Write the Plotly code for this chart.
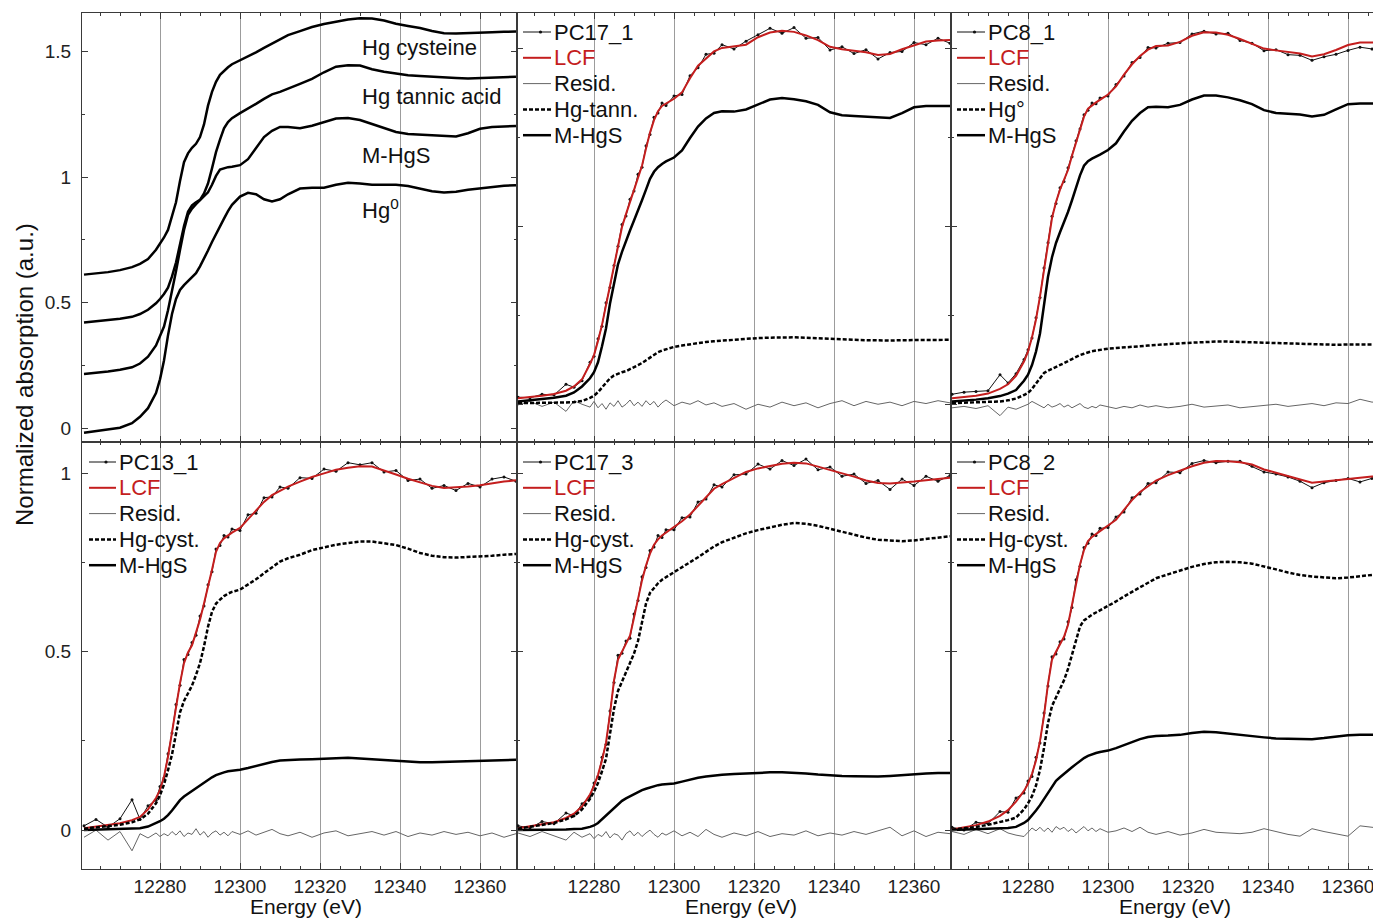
import plotly.graph_objects as go

# ---------------- data ----------------
energy = [12261, 12264, 12267, 12270, 12273, 12275, 12277, 12279, 12280, 12281,
          12282, 12283, 12284, 12285, 12286, 12287, 12288, 12289, 12290, 12291,
          12292, 12293, 12294, 12295, 12296, 12297, 12298, 12300, 12302, 12304,
          12306, 12308, 12310, 12312, 12315, 12318, 12321, 12324, 12327, 12330,
          12333, 12336, 12339, 12342, 12345, 12348, 12351, 12354, 12357, 12360,
          12363, 12366, 12369]

# reference spectra (stacked, top-left panel)
ref_hg_cysteine = [0.612, 0.616, 0.622, 0.630, 0.642, 0.655, 0.674, 0.711, 0.735, 0.760,
                   0.790, 0.845, 0.900, 0.985, 1.060, 1.095, 1.117, 1.133, 1.160, 1.210,
                   1.285, 1.340, 1.380, 1.408, 1.425, 1.438, 1.450, 1.465, 1.482, 1.497,
                   1.515, 1.532, 1.550, 1.566, 1.582, 1.598, 1.610, 1.620, 1.628, 1.633,
                   1.632, 1.624, 1.611, 1.602, 1.594, 1.582, 1.573, 1.572, 1.573, 1.574,
                   1.577, 1.579, 1.580]
ref_hg_tannic = [0.421, 0.425, 0.430, 0.436, 0.444, 0.455, 0.472, 0.498, 0.515, 0.535,
                 0.560, 0.605, 0.660, 0.735, 0.805, 0.862, 0.888, 0.900, 0.910, 0.935,
                 0.975, 1.035, 1.100, 1.150, 1.195, 1.220, 1.235, 1.255, 1.272, 1.292,
                 1.312, 1.330, 1.340, 1.352, 1.372, 1.392, 1.418, 1.440, 1.446, 1.445,
                 1.430, 1.420, 1.412, 1.406, 1.403, 1.400, 1.396, 1.395, 1.393, 1.395,
                 1.396, 1.398, 1.400]
ref_mhgs = [0.216, 0.220, 0.226, 0.233, 0.243, 0.258, 0.285, 0.330, 0.365, 0.405,
            0.470, 0.545, 0.625, 0.710, 0.790, 0.850, 0.875, 0.893, 0.908, 0.922,
            0.940, 0.970, 1.005, 1.030, 1.036, 1.040, 1.042, 1.048, 1.072, 1.115,
            1.160, 1.185, 1.200, 1.200, 1.195, 1.205, 1.220, 1.234, 1.236, 1.228,
            1.212, 1.195, 1.180, 1.172, 1.169, 1.167, 1.163, 1.162, 1.175, 1.193,
            1.200, 1.202, 1.204]
ref_hg0 = [-0.018, -0.012, -0.006, 0.002, 0.020, 0.046, 0.080, 0.140, 0.195, 0.270,
           0.370, 0.455, 0.515, 0.551, 0.570, 0.585, 0.600, 0.618, 0.645, 0.675,
           0.708, 0.742, 0.775, 0.805, 0.835, 0.865, 0.890, 0.923, 0.938, 0.932,
           0.912, 0.903, 0.912, 0.932, 0.955, 0.958, 0.958, 0.970, 0.978, 0.975,
           0.970, 0.970, 0.970, 0.965, 0.955, 0.944, 0.939, 0.942, 0.950, 0.956,
           0.962, 0.966, 0.968]
ref_labels = ["Hg cysteine", "Hg tannic acid", "M-HgS", "Hg<sup>0</sup>"]
ref_label_y = [1.518, 1.323, 1.088, 0.875]

# PC17_1
pc17_1_data = [0.022, 0.020, 0.030, 0.028, 0.058, 0.050, 0.068, 0.120, 0.137, 0.186,
               0.221, 0.287, 0.330, 0.392, 0.446, 0.507, 0.531, 0.578, 0.601, 0.648,
               0.668, 0.728, 0.760, 0.808, 0.820, 0.848, 0.841, 0.868, 0.872, 0.925,
               0.947, 0.985, 0.988, 1.012, 1.000, 1.022, 1.040, 1.058, 1.044, 1.060,
               1.030, 1.032, 0.997, 1.006, 0.987, 0.998, 0.972, 0.990, 0.993, 1.018,
               1.012, 1.030, 1.016]
pc17_1_lcf = [0.019, 0.022, 0.026, 0.031, 0.040, 0.052, 0.072, 0.115, 0.140, 0.180,
              0.225, 0.280, 0.335, 0.385, 0.450, 0.500, 0.536, 0.570, 0.605, 0.640,
              0.672, 0.720, 0.765, 0.800, 0.825, 0.840, 0.846, 0.860, 0.878, 0.918,
              0.953, 0.974, 0.993, 1.003, 1.007, 1.012, 1.033, 1.046, 1.051, 1.048,
              1.038, 1.025, 1.006, 0.999, 0.995, 0.991, 0.983, 0.986, 0.999, 1.011,
              1.021, 1.024, 1.025]
pc17_1_resid = [0.000, 0.010, -0.004, 0.008, -0.018, 0.012, 0.002, -0.006, 0.010, -0.008,
                0.004, -0.012, 0.006, -0.004, 0.012, -0.006, 0.002, 0.014, -0.002, 0.008,
                -0.004, 0.012, 0.000, 0.010, -0.006, 0.006, 0.014, -0.002, 0.008, 0.002,
                0.012, 0.000, 0.006, -0.004, 0.004, -0.012, 0.002, -0.006, 0.008, -0.002,
                0.006, -0.008, 0.004, 0.012, -0.002, 0.010, 0.002, 0.008, -0.002, 0.010,
                0.004, 0.012, 0.006]
pc17_1_hgtann = [0.005, 0.005, 0.006, 0.006, 0.007, 0.008, 0.011, 0.020, 0.026, 0.036,
                 0.048, 0.062, 0.075, 0.083, 0.088, 0.092, 0.095, 0.100, 0.106, 0.112,
                 0.118, 0.126, 0.134, 0.142, 0.148, 0.153, 0.157, 0.163, 0.167, 0.171,
                 0.174, 0.177, 0.179, 0.181, 0.184, 0.186, 0.188, 0.189, 0.190, 0.190,
                 0.189, 0.187, 0.186, 0.184, 0.183, 0.182, 0.181, 0.181, 0.182, 0.182,
                 0.183, 0.183, 0.183]
pc17_1_mhgs = [0.010, 0.013, 0.016, 0.020, 0.026, 0.035, 0.052, 0.075, 0.092, 0.120,
               0.165, 0.215, 0.285, 0.345, 0.395, 0.430, 0.462, 0.490, 0.518, 0.545,
               0.575, 0.605, 0.635, 0.655, 0.668, 0.677, 0.684, 0.695, 0.715, 0.750,
               0.782, 0.805, 0.820, 0.825, 0.824, 0.830, 0.845, 0.858, 0.862, 0.859,
               0.853, 0.843, 0.822, 0.814, 0.812, 0.810, 0.806, 0.806, 0.820, 0.836,
               0.840, 0.840, 0.840]

# PC8_1
pc8_1_data = [0.030, 0.036, 0.038, 0.040, 0.085, 0.062, 0.088, 0.128, 0.155, 0.188,
              0.245, 0.302, 0.385, 0.456, 0.530, 0.566, 0.610, 0.628, 0.666, 0.697,
              0.742, 0.775, 0.815, 0.828, 0.848, 0.846, 0.862, 0.868, 0.900, 0.924,
              0.962, 0.976, 1.004, 1.003, 1.016, 1.018, 1.042, 1.050, 1.042, 1.044,
              1.024, 1.016, 0.995, 0.998, 0.984, 0.982, 0.968, 0.978, 0.985, 0.996,
              1.005, 1.000, 0.996]
pc8_1_lcf = [0.019, 0.022, 0.026, 0.032, 0.045, 0.058, 0.082, 0.122, 0.150, 0.190,
             0.240, 0.305, 0.380, 0.460, 0.525, 0.570, 0.605, 0.632, 0.660, 0.700,
             0.738, 0.778, 0.810, 0.832, 0.842, 0.850, 0.857, 0.872, 0.895, 0.928,
             0.957, 0.980, 0.998, 1.008, 1.010, 1.020, 1.037, 1.047, 1.046, 1.040,
             1.028, 1.014, 1.001, 0.996, 0.992, 0.987, 0.979, 0.985, 0.997, 1.011,
             1.018, 1.018, 1.018]
pc8_1_resid = [-0.008, -0.004, -0.010, -0.002, -0.030, -0.006, -0.012, -0.004, 0.002, 0.010,
               0.004, -0.004, -0.008, 0.002, -0.006, -0.002, 0.004, -0.006, 0.000, -0.008,
               -0.002, 0.004, -0.006, -0.010, -0.004, -0.008, 0.000, -0.006, -0.010, -0.004,
               -0.008, 0.000, -0.006, -0.002, -0.008, -0.004, 0.002, -0.006, -0.002, 0.000,
               -0.008, -0.004, -0.002, 0.002, -0.004, 0.000, 0.004, -0.002, 0.006, 0.004,
               0.016, 0.008, 0.010]
pc8_1_hg0 = [0.005, 0.006, 0.007, 0.008, 0.010, 0.013, 0.018, 0.028, 0.034, 0.045,
             0.060, 0.078, 0.090, 0.096, 0.101, 0.106, 0.111, 0.117, 0.123, 0.129,
             0.135, 0.140, 0.144, 0.148, 0.151, 0.153, 0.155, 0.158, 0.160, 0.161,
             0.163, 0.165, 0.167, 0.169, 0.171, 0.173, 0.175, 0.177, 0.178, 0.178,
             0.177, 0.176, 0.174, 0.173, 0.172, 0.171, 0.169, 0.169, 0.169, 0.170,
             0.170, 0.170, 0.170]
pc8_1_mhgs = [0.010, 0.012, 0.015, 0.019, 0.025, 0.032, 0.042, 0.068, 0.085, 0.112,
              0.150, 0.201, 0.285, 0.360, 0.415, 0.455, 0.485, 0.512, 0.542, 0.575,
              0.610, 0.645, 0.672, 0.685, 0.692, 0.697, 0.703, 0.716, 0.735, 0.768,
              0.798, 0.820, 0.836, 0.838, 0.836, 0.843, 0.858, 0.869, 0.869, 0.864,
              0.856, 0.845, 0.828, 0.820, 0.819, 0.816, 0.810, 0.815, 0.830, 0.845,
              0.847, 0.847, 0.847]

# PC13_1
pc13_1_data = [0.012, 0.030, 0.008, 0.032, 0.085, 0.030, 0.068, 0.084, 0.122, 0.146,
               0.214, 0.272, 0.352, 0.406, 0.478, 0.492, 0.526, 0.546, 0.600, 0.628,
               0.688, 0.724, 0.788, 0.798, 0.826, 0.822, 0.844, 0.840, 0.884, 0.888,
               0.932, 0.934, 0.962, 0.958, 0.988, 0.986, 1.012, 1.006, 1.030, 1.024,
               1.030, 1.004, 1.008, 0.980, 0.984, 0.958, 0.966, 0.952, 0.972, 0.962,
               0.984, 0.990, 0.978]
pc13_1_lcf = [0.005, 0.010, 0.014, 0.019, 0.028, 0.037, 0.058, 0.090, 0.112, 0.150,
              0.205, 0.278, 0.345, 0.412, 0.468, 0.498, 0.518, 0.552, 0.590, 0.635,
              0.680, 0.730, 0.780, 0.805, 0.818, 0.827, 0.834, 0.847, 0.872, 0.896,
              0.920, 0.939, 0.952, 0.963, 0.977, 0.990, 1.000, 1.010, 1.016, 1.020,
              1.019, 1.009, 0.997, 0.985, 0.974, 0.965, 0.959, 0.960, 0.963, 0.967,
              0.973, 0.977, 0.981]
pc13_1_resid = [-0.020, 0.000, -0.028, -0.004, -0.058, -0.010, -0.022, -0.008, -0.018, -0.010,
                -0.016, -0.004, -0.014, -0.002, -0.018, -0.008, -0.012, 0.004, -0.014, -0.004,
                -0.020, -0.008, -0.002, -0.014, -0.006, -0.016, -0.004, -0.012, -0.002, -0.014,
                -0.006, 0.002, -0.010, -0.016, -0.006, -0.020, -0.008, -0.002, -0.016, -0.010,
                -0.004, -0.014, -0.004, -0.018, -0.008, -0.014, -0.004, -0.012, -0.006, -0.016,
                -0.008, -0.020, -0.010]
pc13_1_hgcyst = [0.004, 0.008, 0.011, 0.015, 0.022, 0.030, 0.046, 0.075, 0.098, 0.128,
                 0.168, 0.212, 0.270, 0.330, 0.362, 0.382, 0.405, 0.435, 0.468, 0.515,
                 0.570, 0.612, 0.635, 0.646, 0.656, 0.663, 0.668, 0.674, 0.688, 0.703,
                 0.720, 0.737, 0.753, 0.762, 0.772, 0.785, 0.793, 0.800, 0.805, 0.809,
                 0.809, 0.805, 0.799, 0.789, 0.777, 0.769, 0.765, 0.764, 0.765, 0.766,
                 0.769, 0.772, 0.774]
pc13_1_mhgs = [0.000, 0.001, 0.002, 0.003, 0.004, 0.005, 0.010, 0.019, 0.025, 0.032,
               0.042, 0.055, 0.070, 0.084, 0.094, 0.102, 0.110, 0.117, 0.125, 0.133,
               0.141, 0.148, 0.154, 0.159, 0.162, 0.165, 0.166, 0.169, 0.174, 0.180,
               0.186, 0.191, 0.195, 0.197, 0.198, 0.199, 0.200, 0.202, 0.203, 0.201,
               0.199, 0.196, 0.193, 0.191, 0.190, 0.190, 0.191, 0.192, 0.193, 0.194,
               0.195, 0.196, 0.197]

# PC17_3
pc17_3_data = [0.012, 0.006, 0.024, 0.018, 0.048, 0.040, 0.074, 0.094, 0.132, 0.150,
               0.204, 0.240, 0.334, 0.414, 0.490, 0.496, 0.530, 0.538, 0.606, 0.644,
               0.710, 0.736, 0.784, 0.794, 0.826, 0.820, 0.842, 0.842, 0.876, 0.878,
               0.920, 0.928, 0.968, 0.962, 0.996, 0.998, 1.026, 1.012, 1.036, 1.022,
               1.040, 1.010, 1.018, 0.992, 0.998, 0.972, 0.980, 0.955, 0.984, 0.966,
               0.992, 0.978, 0.994]
pc17_3_lcf = [0.005, 0.010, 0.016, 0.022, 0.034, 0.046, 0.066, 0.100, 0.124, 0.155,
              0.195, 0.245, 0.325, 0.420, 0.478, 0.500, 0.520, 0.545, 0.595, 0.650,
              0.700, 0.742, 0.775, 0.800, 0.815, 0.826, 0.834, 0.848, 0.866, 0.885,
              0.910, 0.935, 0.957, 0.970, 0.987, 1.004, 1.014, 1.021, 1.027, 1.030,
              1.028, 1.019, 1.010, 1.001, 0.991, 0.980, 0.973, 0.972, 0.974, 0.977,
              0.981, 0.985, 0.988]
pc17_3_resid = [-0.008, -0.018, -0.004, -0.016, -0.028, -0.006, -0.020, -0.010, -0.024, -0.012,
                -0.018, -0.004, -0.022, -0.010, -0.014, -0.028, -0.010, -0.002, -0.016, -0.006,
                -0.018, -0.008, 0.000, -0.012, -0.020, -0.008, -0.014, -0.002, -0.016, -0.006,
                -0.018, 0.002, -0.012, -0.020, -0.008, -0.016, -0.004, -0.018, -0.010, -0.014,
                -0.002, -0.016, -0.008, -0.014, -0.004, -0.012, -0.002, 0.008, -0.016, -0.002,
                -0.018, -0.006, -0.010]
pc17_3_hgcyst = [0.004, 0.009, 0.014, 0.020, 0.030, 0.040, 0.058, 0.088, 0.108, 0.132,
                 0.165, 0.200, 0.270, 0.340, 0.390, 0.415, 0.440, 0.465, 0.495, 0.530,
                 0.585, 0.635, 0.665, 0.680, 0.692, 0.702, 0.709, 0.721, 0.735, 0.750,
                 0.765, 0.780, 0.795, 0.807, 0.820, 0.832, 0.841, 0.849, 0.856, 0.861,
                 0.859, 0.853, 0.845, 0.836, 0.827, 0.820, 0.814, 0.811, 0.810, 0.812,
                 0.816, 0.820, 0.824]
pc17_3_mhgs = [0.000, 0.000, 0.001, 0.001, 0.002, 0.003, 0.004, 0.009, 0.013, 0.020,
               0.030, 0.040, 0.052, 0.062, 0.072, 0.082, 0.089, 0.095, 0.101, 0.107,
               0.112, 0.116, 0.120, 0.123, 0.126, 0.128, 0.129, 0.131, 0.136, 0.142,
               0.147, 0.150, 0.153, 0.155, 0.157, 0.159, 0.161, 0.162, 0.162, 0.161,
               0.159, 0.156, 0.153, 0.152, 0.151, 0.150, 0.150, 0.152, 0.155, 0.157,
               0.159, 0.160, 0.160]

# PC8_2
pc8_2_data = [0.008, 0.000, 0.022, 0.018, 0.052, 0.050, 0.090, 0.104, 0.138, 0.150,
              0.204, 0.244, 0.328, 0.404, 0.486, 0.494, 0.528, 0.536, 0.584, 0.624,
              0.702, 0.740, 0.792, 0.804, 0.830, 0.826, 0.846, 0.848, 0.878, 0.892,
              0.932, 0.942, 0.972, 0.974, 1.004, 1.002, 1.028, 1.036, 1.030, 1.034,
              1.034, 1.020, 1.004, 0.998, 0.990, 0.978, 0.960, 0.974, 0.980, 0.986,
              0.976, 0.986, 0.990]
pc8_2_lcf = [0.002, 0.007, 0.014, 0.024, 0.040, 0.056, 0.080, 0.110, 0.130, 0.158,
             0.195, 0.250, 0.320, 0.410, 0.478, 0.500, 0.520, 0.542, 0.575, 0.630,
             0.695, 0.745, 0.785, 0.810, 0.822, 0.831, 0.838, 0.854, 0.870, 0.898,
             0.925, 0.948, 0.963, 0.980, 0.995, 1.008, 1.020, 1.030, 1.035, 1.034,
             1.031, 1.025, 1.011, 1.002, 0.993, 0.982, 0.974, 0.977, 0.981, 0.985,
             0.988, 0.991, 0.994]
pc8_2_resid = [-0.004, -0.012, 0.002, -0.010, 0.004, -0.008, -0.014, -0.018, -0.006, 0.006,
               -0.002, 0.008, -0.004, 0.006, -0.006, 0.010, 0.002, 0.008, -0.004, 0.004,
               -0.008, 0.002, 0.010, -0.002, 0.006, -0.004, 0.004, -0.006, -0.002, 0.006,
               -0.004, 0.008, -0.006, -0.012, -0.004, -0.014, -0.008, 0.002, -0.006, -0.008,
               -0.010, -0.006, 0.004, -0.004, -0.012, -0.017, 0.004, -0.004, -0.010, -0.017,
               0.012, 0.008, 0.004]
pc8_2_hgcyst = [0.001, 0.004, 0.009, 0.015, 0.022, 0.028, 0.035, 0.058, 0.075, 0.095,
                0.125, 0.169, 0.230, 0.300, 0.348, 0.372, 0.393, 0.420, 0.452, 0.490,
                0.535, 0.571, 0.588, 0.597, 0.604, 0.610, 0.616, 0.628, 0.641, 0.655,
                0.668, 0.682, 0.694, 0.706, 0.717, 0.728, 0.738, 0.746, 0.751, 0.752,
                0.751, 0.747, 0.740, 0.731, 0.722, 0.715, 0.711, 0.708, 0.706, 0.708,
                0.712, 0.716, 0.719]
pc8_2_mhgs = [0.000, 0.001, 0.002, 0.003, 0.004, 0.006, 0.009, 0.020, 0.028, 0.040,
              0.055, 0.070, 0.087, 0.103, 0.118, 0.138, 0.148, 0.158, 0.167, 0.176,
              0.185, 0.194, 0.202, 0.208, 0.213, 0.216, 0.219, 0.223, 0.230, 0.239,
              0.247, 0.255, 0.261, 0.264, 0.265, 0.267, 0.272, 0.276, 0.274, 0.270,
              0.267, 0.264, 0.260, 0.257, 0.256, 0.255, 0.255, 0.258, 0.263, 0.266,
              0.267, 0.267, 0.267]

x_tick_values = [12280, 12300, 12320, 12340, 12360]

# ---------------- styling / layout ----------------
PAGE_W, PAGE_H = 1381, 921
OFF = 8                      # default body margin of the html page
W, H = PAGE_W - OFF, PAGE_H - OFF
FONT = "Arial, Liberation Sans, Helvetica, sans-serif"
RED = "#c41e1e"
FRAME = "#3a3a3a"


def px_x(p):
    return (p - OFF) / W


def px_y(p):
    return 1 - (p - OFF) / H


col_px = [(82, 517), (517, 951), (951, 1381)]
row_px = [(13, 442), (442, 869)]
x_ranges = [[12260.5, 12369.25], [12260.75, 12369.25], [12260.75, 12368.25]]
y_ranges = [[[-0.0546, 1.654], [-0.104, 1.101], [-0.104, 1.101]],
            [[-0.109, 1.088], [-0.109, 1.088], [-0.109, 1.088]]]

fig = go.Figure()
layout = dict(width=W, height=H, margin=dict(l=0, r=0, t=0, b=0),
              paper_bgcolor="white", plot_bgcolor="white",
              font=dict(family=FONT, color="#111"), showlegend=False)

for r in range(2):
    for c in range(3):
        k = r * 3 + c + 1
        xs = "" if k == 1 else str(k)
        xa = dict(domain=[px_x(col_px[c][0]), px_x(col_px[c][1])],
                  range=x_ranges[c], anchor="y" + xs,
                  tickmode="array", tickvals=x_tick_values, tickformat="d",
                  ticks="inside", ticklen=6, tickwidth=1, tickcolor=FRAME,
                  showline=True, linecolor=FRAME, linewidth=1.2, mirror="ticks",
                  showgrid=True, gridcolor="#9c9c9c", gridwidth=1, zeroline=False,
                  minor=dict(dtick=5, tick0=12280, ticks="inside", ticklen=3,
                             tickcolor=FRAME, showgrid=False),
                  showticklabels=(r == 1), ticklabelstandoff=0,
                  tickfont=dict(size=19, color="#222", family=FONT))
        ya = dict(domain=[px_y(row_px[r][1]), px_y(row_px[r][0])],
                  range=y_ranges[r][c], anchor="x" + xs,
                  tick0=0, dtick=0.5, ticks="inside", ticklen=6, tickwidth=1,
                  tickcolor=FRAME, showline=True, linecolor=FRAME, linewidth=1.2,
                  mirror=("ticks" if c < 2 else False),
                  showgrid=False, zeroline=False,
                  minor=dict(dtick=0.25, tick0=0, ticks="inside", ticklen=3,
                             tickcolor=FRAME, showgrid=False),
                  showticklabels=(c == 0), ticklabelstandoff=6,
                  tickfont=dict(size=19, color="#222", family=FONT))
        layout["xaxis" + xs] = xa
        layout["yaxis" + xs] = ya

# top-left references
for series in [ref_hg_cysteine, ref_hg_tannic, ref_mhgs, ref_hg0]:
    fig.add_trace(go.Scatter(x=energy, y=series, mode="lines",
                             line=dict(color="black", width=2.5),
                             xaxis="x", yaxis="y"))

panels = [
    (2, "PC17_1", pc17_1_data, pc17_1_lcf, pc17_1_resid, "Hg-tann.", pc17_1_hgtann, pc17_1_mhgs),
    (3, "PC8_1", pc8_1_data, pc8_1_lcf, pc8_1_resid, "Hg°", pc8_1_hg0, pc8_1_mhgs),
    (4, "PC13_1", pc13_1_data, pc13_1_lcf, pc13_1_resid, "Hg-cyst.", pc13_1_hgcyst, pc13_1_mhgs),
    (5, "PC17_3", pc17_3_data, pc17_3_lcf, pc17_3_resid, "Hg-cyst.", pc17_3_hgcyst, pc17_3_mhgs),
    (6, "PC8_2", pc8_2_data, pc8_2_lcf, pc8_2_resid, "Hg-cyst.", pc8_2_hgcyst, pc8_2_mhgs),
]

# legend placement (reference pixels): sample line start, text start, first row centre
legend_pos = {2: (523, 552, 32), 3: (957, 986, 32), 4: (89, 117, 462),
              5: (523, 552, 462), 6: (957, 986, 462)}
ROW = 25.8

shapes = []
annotations = []

for (k, name, data, lcf, resid, comp_name, comp, mhgs) in panels:
    ax = dict(xaxis="x" + str(k), yaxis="y" + str(k))
    fig.add_trace(go.Scatter(x=energy, y=data, mode="lines+markers", name=name,
                             line=dict(color="#111", width=1),
                             marker=dict(color="#111", size=3), **ax))
    fig.add_trace(go.Scatter(x=energy, y=lcf, mode="lines", name="LCF",
                             line=dict(color=RED, width=2), **ax))
    fig.add_trace(go.Scatter(x=energy, y=resid, mode="lines", name="Resid.",
                             line=dict(color="#666", width=1), **ax))
    fig.add_trace(go.Scatter(x=energy, y=comp, mode="lines", name=comp_name,
                             line=dict(color="black", width=2.5, dash="4px,2px"), **ax))
    fig.add_trace(go.Scatter(x=energy, y=mhgs, mode="lines", name="M-HgS",
                             line=dict(color="black", width=2.5), **ax))

    # legend drawn as paper-positioned samples + labels
    sx, tx, y0 = legend_pos[k]
    entries = [(name, "#111", 1, "solid", "#111"),
               ("LCF", RED, 2, "solid", RED),
               ("Resid.", "#666", 1, "solid", "#111"),
               (comp_name, "black", 2.5, "4px,2px", "#111"),
               ("M-HgS", "black", 2.5, "solid", "#111")]
    for j, (lab, lc, lw, dash, tc) in enumerate(entries):
        yy = y0 + j * ROW
        shapes.append(dict(type="line", xref="paper", yref="paper",
                           x0=px_x(sx), x1=px_x(tx - 1), y0=px_y(yy), y1=px_y(yy),
                           line=dict(color=lc, width=lw, dash=dash)))
        if j == 0:
            mx = (sx + tx) / 2 + 3
            shapes.append(dict(type="circle", xref="paper", yref="paper",
                               x0=px_x(mx - 1.6), x1=px_x(mx + 1.6),
                               y0=px_y(yy + 1.6), y1=px_y(yy - 1.6),
                               fillcolor="#111", line=dict(width=0)))
        annotations.append(dict(x=px_x(tx), y=px_y(yy), xref="paper", yref="paper",
                                text=lab, showarrow=False, xanchor="left",
                                yanchor="middle",
                                font=dict(size=22, family=FONT, color=tc)))

for lab, yv in zip(ref_labels, ref_label_y):
    annotations.append(dict(x=12330, y=yv, xref="x", yref="y", text=lab,
                            showarrow=False, xanchor="left", yanchor="middle",
                            font=dict(size=22, family=FONT, color="#111")))
for c in range(3):
    cx = col_px[c][0] + 435 / 2 + 6
    annotations.append(dict(x=px_x(cx), y=px_y(906), xref="paper", yref="paper",
                            text="Energy (eV)", showarrow=False,
                            xanchor="center", yanchor="middle",
                            font=dict(size=21, family=FONT, color="#111")))
annotations.append(dict(x=px_x(24), y=px_y(375), xref="paper", yref="paper",
                        text="Normalized absorption (a.u.)", showarrow=False,
                        textangle=-90, xanchor="center", yanchor="middle",
                        font=dict(size=24, family=FONT, color="#111")))
layout["annotations"] = annotations
layout["shapes"] = shapes

fig.update_layout(**layout)
fig.write_html("out.html")
